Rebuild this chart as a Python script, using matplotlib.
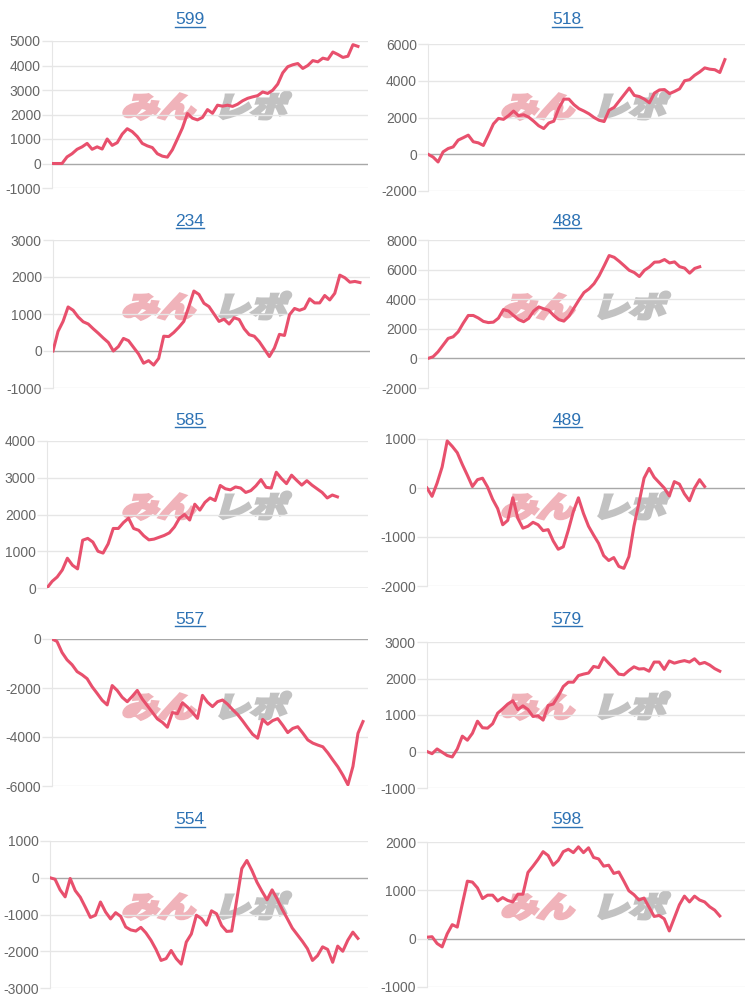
import matplotlib
matplotlib.use('Agg')
import matplotlib.pyplot as plt
from matplotlib.lines import Line2D
from matplotlib.patches import PathPatch
from matplotlib.textpath import TextPath
from matplotlib.font_manager import FontProperties
from matplotlib.transforms import Affine2D, IdentityTransform

plt.rcParams['font.family'] = ['Liberation Sans', 'DejaVu Sans']

# machine numbers (panel titles)
titles = ['599', '518', '234', '488', '585', '489', '557', '579', '554', '598']

# cumulative difference per day
s599 = [0, 0, 0, 270, 400, 580, 680, 820, 580, 680, 590, 1000, 740, 850, 1200, 1420,
        1300, 1100, 820, 720, 650, 400, 300, 260, 560, 1000, 1450, 2040, 1850, 1780, 1880,
        2200, 2050, 2380, 2340, 2380, 2330, 2420, 2560, 2660, 2720, 2770, 2920, 2860, 2990,
        3240, 3700, 3950, 4030, 4080, 3880, 4000, 4200, 4150, 4300, 4250, 4550, 4450, 4330,
        4380, 4850, 4780]
s518 = [0, -150, -420, 130, 310, 400, 770, 900, 1040, 680, 620, 480, 1050, 1650, 1950,
        1900, 2100, 2350, 2100, 2150, 2020, 1800, 1550, 1400, 1700, 1800, 2500, 3000, 3000,
        2700, 2480, 2350, 2200, 2000, 1850, 1780, 2400, 2550, 2900, 3250, 3600, 3200, 3140,
        3000, 2800, 3330, 3500, 3520, 3300, 3420, 3560, 4000, 4060, 4300, 4480, 4700, 4630,
        4600, 4450, 5150]
s234 = [0, 530, 800, 1190, 1100, 920, 790, 730, 600, 480, 350, 230, 0, 120, 340, 280,
        100, -80, -330, -260, -380, -200, 400, 390, 500, 640, 800, 1200, 1620, 1530, 1290,
        1200, 1000, 800, 860, 730, 900, 850, 600, 440, 400, 250, 50, -150, 80, 450, 420,
        980, 1150, 1100, 1150, 1410, 1300, 1300, 1500, 1380, 1560, 2050, 1980, 1860, 1880,
        1850]
s488 = [0, 110, 450, 900, 1350, 1460, 1800, 2380, 2900, 2900, 2730, 2500, 2420, 2450,
        2720, 3300, 3200, 2900, 2620, 2480, 2700, 3200, 3480, 3350, 3250, 2900, 2620, 2520,
        2850, 3400, 3950, 4450, 4700, 5050, 5580, 6250, 6950, 6830, 6560, 6260, 5950, 5800,
        5530, 5950, 6180, 6500, 6520, 6680, 6450, 6520, 6200, 6100, 5760, 6080, 6190]
s585 = [0, 180, 300, 490, 810, 620, 520, 1300, 1350, 1250, 1000, 950, 1200, 1620, 1620,
        1780, 1900, 1620, 1570, 1420, 1310, 1330, 1380, 1430, 1500, 1660, 1900, 2000, 1850,
        2280, 2120, 2330, 2450, 2380, 2790, 2700, 2670, 2750, 2720, 2600, 2650, 2780, 2950,
        2740, 2720, 3150, 2980, 2840, 3070, 2930, 2800, 2920, 2800, 2700, 2600, 2450, 2530,
        2480]
s489 = [0, -170, 100, 430, 960, 850, 720, 480, 260, 30, 170, 200, 20, -230, -420, -750,
        -660, -200, -620, -820, -780, -700, -750, -870, -850, -1080, -1250, -1200, -860,
        -480, -200, -520, -780, -960, -1130, -1380, -1480, -1420, -1600, -1640, -1400, -780,
        -300, 200, 400, 220, 110, 0, -160, 130, 80, -120, -260, 0, 170, 30]
s557 = [0, -100, -550, -850, -1050, -1330, -1460, -1620, -1950, -2220, -2500, -2690,
        -1900, -2100, -2380, -2560, -2340, -2100, -2450, -2720, -2990, -3260, -3400, -3600,
        -3000, -3050, -2600, -2780, -3000, -3240, -2300, -2580, -2760, -2560, -2490, -2660,
        -2880, -3080, -3340, -3620, -3890, -4050, -3280, -3480, -3330, -3250, -3520, -3820,
        -3650, -3580, -3840, -4120, -4250, -4330, -4400, -4650, -4940, -5220, -5560, -5950,
        -5200, -3850, -3370]
s579 = [0, -60, 70, -20, -110, -150, 70, 420, 310, 500, 830, 650, 640, 760, 1050, 1170,
        1300, 1390, 1150, 1250, 1150, 960, 980, 860, 1260, 1300, 1520, 1780, 1900, 1900,
        2080, 2120, 2150, 2330, 2300, 2570, 2420, 2280, 2120, 2100, 2220, 2320, 2260, 2270,
        2200, 2450, 2450, 2250, 2480, 2420, 2460, 2490, 2450, 2540, 2400, 2440, 2370, 2270,
        2200]
s554 = [0, -40, -330, -520, -20, -350, -530, -800, -1080, -1020, -660, -930, -1120, -950,
        -1050, -1340, -1420, -1450, -1350, -1500, -1700, -1950, -2250, -2200, -1980, -2200,
        -2350, -1750, -1530, -1020, -1110, -1290, -900, -980, -1300, -1460, -1450, -600, 250,
        470, 200, -120, -370, -600, -330, -580, -860, -1110, -1370, -1550, -1730, -1930,
        -2250, -2120, -1880, -1950, -2300, -1860, -2000, -1700, -1480, -1650]
s598 = [30, 40, -100, -170, 100, 290, 240, 720, 1190, 1170, 1050, 830, 900, 900, 780, 850,
        790, 760, 920, 920, 1370, 1500, 1640, 1800, 1720, 1520, 1620, 1800, 1850, 1780, 1900,
        1780, 1880, 1680, 1650, 1500, 1520, 1350, 1380, 1190, 990, 910, 800, 840, 650, 460,
        480, 410, 160, 430, 700, 880, 760, 880, 800, 760, 660, 590, 470]

series = [s599, s518, s234, s488, s585, s489, s557, s579, s554, s598]

# y axis range and tick step per panel
ymins = [-1000, -2000, -1000, -2000, 0, -2000, -6000, -1000, -3000, -1000]
ymaxs = [5000, 6000, 3000, 8000, 4000, 1000, 0, 3000, 1000, 2000]
ysteps = [1000, 2000, 1000, 2000, 1000, 1000, 2000, 1000, 1000, 1000]
n_days = 64

# plot area boxes in pixels: left, right, top, bottom
boxes = [(52, 368, 41, 188), (428, 745, 44, 191),
         (53, 370, 240, 388), (428, 745, 240, 388),
         (47, 368, 441, 588), (427, 745, 439, 586),
         (52, 368, 639, 786), (427, 745, 642, 788),
         (50, 368, 841, 988), (427, 745, 842, 987)]
title_y = [20, 20, 221, 221, 421, 421, 619, 619, 820, 820]

W, H = 750, 999
fig = plt.figure(figsize=(W / 100, H / 100), dpi=100)
fig.patch.set_facecolor('white')

line_color = '#e8506d'
title_color = '#2d72b4'
wm_font = FontProperties(family='Noto Sans CJK JP', weight='bold')

title_texts = []
for i in range(10):
    l, r, t, b = boxes[i]
    ax = fig.add_axes([l / W, 1 - b / H, (r - l) / W, (b - t) / H])
    ax.plot(range(len(series[i])), series[i], color=line_color, lw=2.2,
            solid_joinstyle='round', zorder=5)
    ax.set_xlim(0, n_days - 1)
    ax.set_ylim(ymins[i], ymaxs[i])
    ticks = list(range(ymins[i], ymaxs[i] + 1, ysteps[i]))
    ax.set_yticks(ticks)
    ax.set_yticklabels([str(v) for v in ticks])
    ax.set_xticks([])
    for v in ticks:
        if v == 0:
            ax.axhline(v, color='#a8a8a8', lw=1, zorder=2)
        else:
            ax.axhline(v, color='#e6e6e6', lw=1, zorder=1)
    for side in ['top', 'right', 'bottom']:
        ax.spines[side].set_visible(False)
    ax.spines['left'].set_color('#e6e6e6')
    ax.tick_params(axis='y', length=7, width=1, color='#e6e6e6', pad=1,
                   labelsize=10, labelcolor='#666666')
    ax.patch.set_alpha(0)

    # watermark
    col_x = 121 if i % 2 == 0 else 500
    row_top = 200 * (i // 2)
    base_y = H - (row_top + 117)
    for txt, dx, colr in [('みん', 0, '#f0b3ba'), ('レポ', 92, '#c2c2c2')]:
        tp = TextPath((0, 0), txt, size=30, prop=wm_font)
        tr = Affine2D().scale(1.22, 0.95).skew_deg(16, 0).translate(col_x + dx, base_y)
        patch = PathPatch(tp, transform=tr + IdentityTransform(), facecolor=colr,
                          edgecolor=colr, lw=2.6, zorder=-1)
        fig.add_artist(patch)

    cx = 190 if i % 2 == 0 else 567
    tt = fig.text(cx / W, 1 - title_y[i] / H, titles[i], ha='center', va='center',
                  fontsize=12.5, color=title_color)
    title_texts.append(tt)

fig.canvas.draw()
rend = fig.canvas.get_renderer()
for tt in title_texts:
    bb = tt.get_window_extent(rend)
    fig.add_artist(Line2D([bb.x0, bb.x1], [bb.y0 + 1, bb.y0 + 1], color=title_color,
                          lw=1, transform=IdentityTransform()))

fig.savefig('out.png', dpi=100, facecolor='white')
